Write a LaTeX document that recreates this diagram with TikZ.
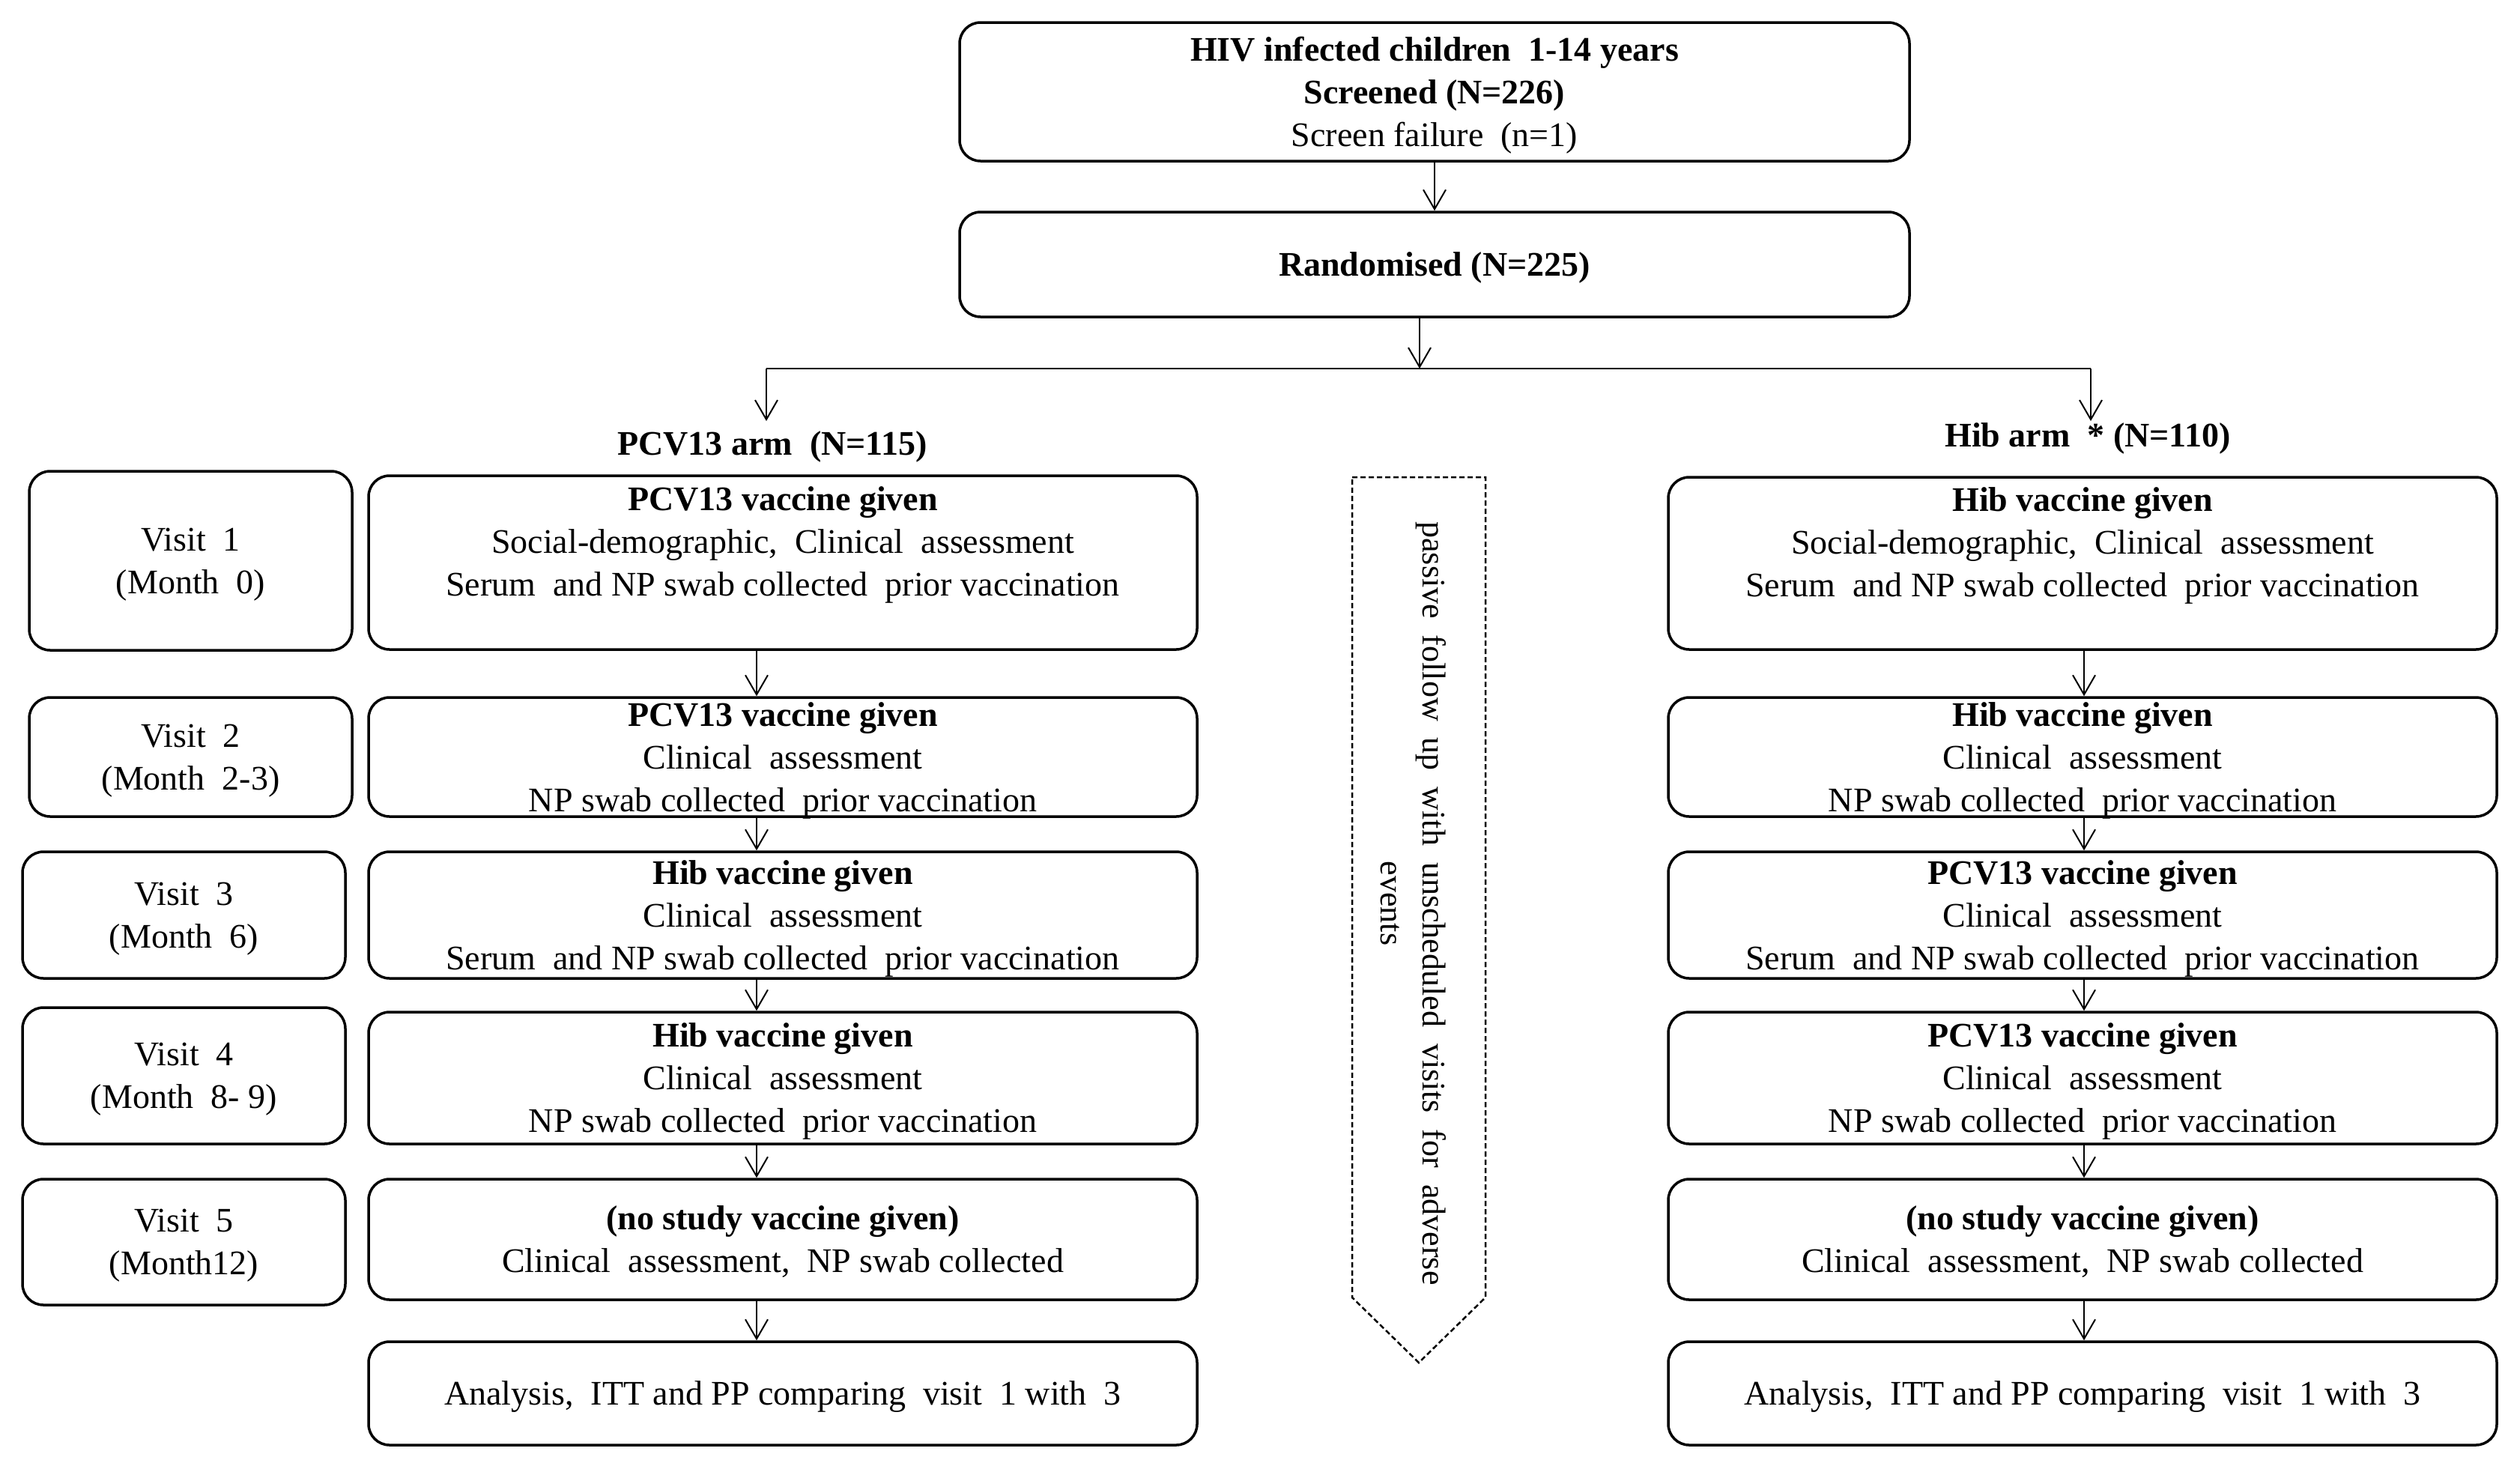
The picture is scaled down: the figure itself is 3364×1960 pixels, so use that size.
\documentclass[tikz,border=0pt]{standalone}
\usepackage{fontspec}
\setmainfont{Liberation Serif}
\usetikzlibrary{arrows.meta,calc}
\begin{document}
\begin{tikzpicture}[x=1pt,y=-1pt,
  box/.style={draw, line width=3.5pt, rounded corners=28pt, inner sep=0pt, align=center,
    text depth=0pt, font=\fontsize{46}{57}\selectfont},
  lbl/.style={align=center, inner sep=0pt, font=\fontsize{46}{57}\selectfont},
  arr/.style={line width=2pt, -{Straight Barb[length=26pt,width=30pt,line width=2pt]}},
  plain/.style={line width=2.5pt},
  wbox/.style={box, minimum width=1106pt},
  vbox/.style={box, minimum width=431pt},
]
\useasboundingbox (0,0) rectangle (3364,1960);

% top
\node[box, minimum width=1268pt, minimum height=185pt] (top) at (1915,122.5)
  {\textbf{HIV infected children~ 1-14 years}\\\textbf{Screened (N=226)}\\Screen failure~ (n=1)};
\node[box, minimum width=1268pt, minimum height=140pt] (rand) at (1915,353)
  {\textbf{Randomised (N=225)}};

\coordinate (j) at (1895,492);
\coordinate (jl) at (1023,492);
\coordinate (jr) at (2791,492);
\coordinate (al) at (1023,562);
\coordinate (ar) at (2791,562);

\node[lbl] (pcvarm) at (1031,596) {\textbf{PCV13 arm~ (N=115)}};
\node[lbl] (hibarm) at (2787,585) {\textbf{Hib arm~ * (N=110)}};

% visit boxes
\node[vbox, minimum height=239pt] (v1) at (254.5,748.5) {Visit~ 1\\(Month~ 0)};
\node[vbox, minimum height=159pt] (v2) at (254.5,1010.5) {Visit~ 2\\(Month~ 2-3)};
\node[vbox, minimum height=169pt] (v3) at (245.5,1221.5) {Visit~ 3\\(Month~ 6)};
\node[vbox, minimum height=182pt] (v4) at (245.5,1436) {Visit~ 4\\(Month~ 8- 9)};
\node[vbox, minimum height=168pt] (v5) at (245.5,1658) {Visit~ 5\\(Month12)};

% left column
\node[wbox, minimum height=232pt] (c1) at (1045,751)
  {\textbf{PCV13 vaccine given}\\Social-demographic,~ Clinical~ assessment\\Serum~ and NP swab collected~ prior vaccination\\\mbox{}};
\node[wbox, minimum height=159pt] (c2) at (1045,1010.5)
  {\textbf{PCV13 vaccine given}\\Clinical~ assessment\\NP swab collected~ prior vaccination};
\node[wbox, minimum height=169pt] (c3) at (1045,1221.5)
  {\textbf{Hib vaccine given}\\Clinical~ assessment\\Serum~ and NP swab collected~ prior vaccination};
\node[wbox, minimum height=176pt] (c4) at (1045,1439)
  {\textbf{Hib vaccine given}\\Clinical~ assessment\\NP swab collected~ prior vaccination};
\node[wbox, minimum height=161pt] (c5) at (1045,1654.5)
  {\textbf{(no study vaccine given)}\\Clinical~ assessment,~ NP swab collected};
\node[wbox, minimum height=138pt] (c6) at (1045,1860)
  {Analysis,~ ITT and PP comparing~ visit~ 1 with~ 3};

% right column
\node[wbox, minimum height=230pt] (r1) at (2780,752)
  {\textbf{Hib vaccine given}\\Social-demographic,~ Clinical~ assessment\\Serum~ and NP swab collected~ prior vaccination\\\mbox{}};
\node[wbox, minimum height=159pt] (r2) at (2780,1010.5)
  {\textbf{Hib vaccine given}\\Clinical~ assessment\\NP swab collected~ prior vaccination};
\node[wbox, minimum height=169pt] (r3) at (2780,1221.5)
  {\textbf{PCV13 vaccine given}\\Clinical~ assessment\\Serum~ and NP swab collected~ prior vaccination};
\node[wbox, minimum height=176pt] (r4) at (2780,1439)
  {\textbf{PCV13 vaccine given}\\Clinical~ assessment\\NP swab collected~ prior vaccination};
\node[wbox, minimum height=161pt] (r5) at (2780,1654.5)
  {\textbf{(no study vaccine given)}\\Clinical~ assessment,~ NP swab collected};
\node[wbox, minimum height=138pt] (r6) at (2780,1860)
  {Analysis,~ ITT and PP comparing~ visit~ 1 with~ 3};

% dashed follow-up arrow
\draw[line width=2.5pt, dash pattern=on 7pt off 4pt]
  (1805,637) -- (1983,637) -- (1983,1732) -- (1894,1819) -- (1805,1732) -- cycle;
\node[lbl, rotate=-90, font=\fontsize{44}{56}\selectfont] (pf) at (1887,1206)
  {passive~ follow~ up~ with~ unscheduled~ visits~ for~ adverse\\events};

% connectors
\coordinate (ax) at (1010,0);
\coordinate (bx) at (2782,0);
\draw[arr] (top) -- (rand);
\draw[arr] (rand.south -| j) -- (j);
\draw[plain] (jl) -- (jr);
\draw[arr] (jl) -- (al);
\draw[arr] (jr) -- (ar);
\draw[arr] (c1.south -| ax) -- (c2.north -| ax);
\draw[arr] (c2.south -| ax) -- (c3.north -| ax);
\draw[arr] (c3.south -| ax) -- (c4.north -| ax);
\draw[arr] (c4.south -| ax) -- (c5.north -| ax);
\draw[arr] (c5.south -| ax) -- (c6.north -| ax);
\draw[arr] (r1.south -| bx) -- (r2.north -| bx);
\draw[arr] (r2.south -| bx) -- (r3.north -| bx);
\draw[arr] (r3.south -| bx) -- (r4.north -| bx);
\draw[arr] (r4.south -| bx) -- (r5.north -| bx);
\draw[arr] (r5.south -| bx) -- (r6.north -| bx);
\end{tikzpicture}
\end{document}
